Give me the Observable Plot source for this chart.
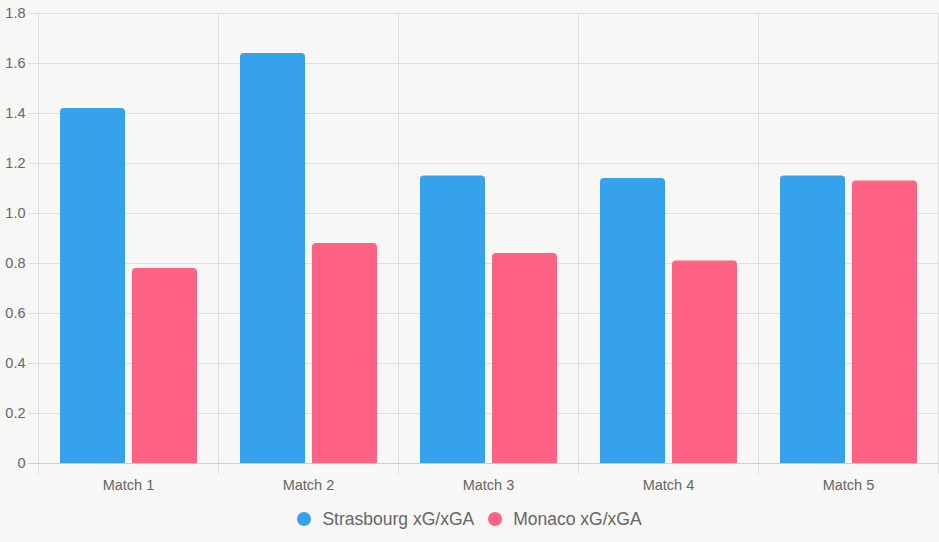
<!DOCTYPE html>
<html><head><meta charset="utf-8">
<script src="https://cdn.jsdelivr.net/npm/d3@7"></script>
<script src="https://cdn.jsdelivr.net/npm/@observablehq/plot@0.6"></script>
<style>
body{margin:0;background:#f7f7f5;font-family:"Liberation Sans",Arial,sans-serif;width:939px;height:542px;overflow:hidden}
#legend{height:46px;display:flex;align-items:center;justify-content:center;color:#666;font-size:17.5px}
.item{display:flex;align-items:center}
.dot{width:14px;height:14px;border-radius:50%;margin-right:11px}
.item + .item{margin-left:14px}
</style></head><body><div id="chart"></div><div id="legend"></div>
<script>
const matches = ["Match 1", "Match 2", "Match 3", "Match 4", "Match 5"];
const strasbourg = [1.42, 1.64, 1.15, 1.14, 1.15];
const monaco = [0.78, 0.88, 0.84, 0.81, 1.13];
const seriesNames = ["Strasbourg xG/xGA", "Monaco xG/xGA"];
const seriesColors = ["#36a2eb", "#ff6384"];
const yTicks = [0, 0.2, 0.4, 0.6, 0.8, 1.0, 1.2, 1.4, 1.6, 1.8];

const data = matches.flatMap((m, i) => [
  {match: m, team: seriesNames[0], value: strasbourg[i]},
  {match: m, team: seriesNames[1], value: monaco[i]}
]);

const grid = "#dedede";
const plot = Plot.plot({
  width: 939, height: 496,
  marginLeft: 38, marginRight: 1, marginTop: 13, marginBottom: 33,
  style: {background: "transparent", fontFamily: '"Liberation Sans", Arial, sans-serif', fontSize: "14.5px", color: "#666"},
  fx: {domain: matches, padding: 0, label: null, axis: "bottom", tickSize: 0, tickPadding: 16},
  x: {domain: seriesNames, axis: null, paddingInner: 0.1, paddingOuter: 0.3},
  y: {domain: [0, 1.8], ticks: yTicks, tickFormat: d => d === 0 ? "0" : d.toFixed(1), tickSize: 0, tickPadding: 13, label: null},
  color: {domain: seriesNames, range: seriesColors},
  marks: [
    Plot.ruleY(yTicks.slice(1), {stroke: grid, insetLeft: -10}),
    Plot.frame({anchor: "left", stroke: grid, insetBottom: -10}),
    Plot.frame({anchor: "right", stroke: grid, insetBottom: -10}),
    Plot.barY(data, {fx: "match", x: "team", y: "value", fill: "team", ry1: 4}),
    Plot.ruleY([0], {stroke: "#cfcfcf", insetLeft: -10})
  ]
});
document.getElementById("chart").appendChild(plot);

const legend = document.getElementById("legend");
seriesNames.forEach((name, i) => {
  const it = document.createElement("div");
  it.className = "item";
  const dot = document.createElement("span");
  dot.className = "dot";
  dot.style.background = seriesColors[i];
  const t = document.createElement("span");
  t.textContent = name;
  it.appendChild(dot); it.appendChild(t);
  legend.appendChild(it);
});
</script></body></html>
